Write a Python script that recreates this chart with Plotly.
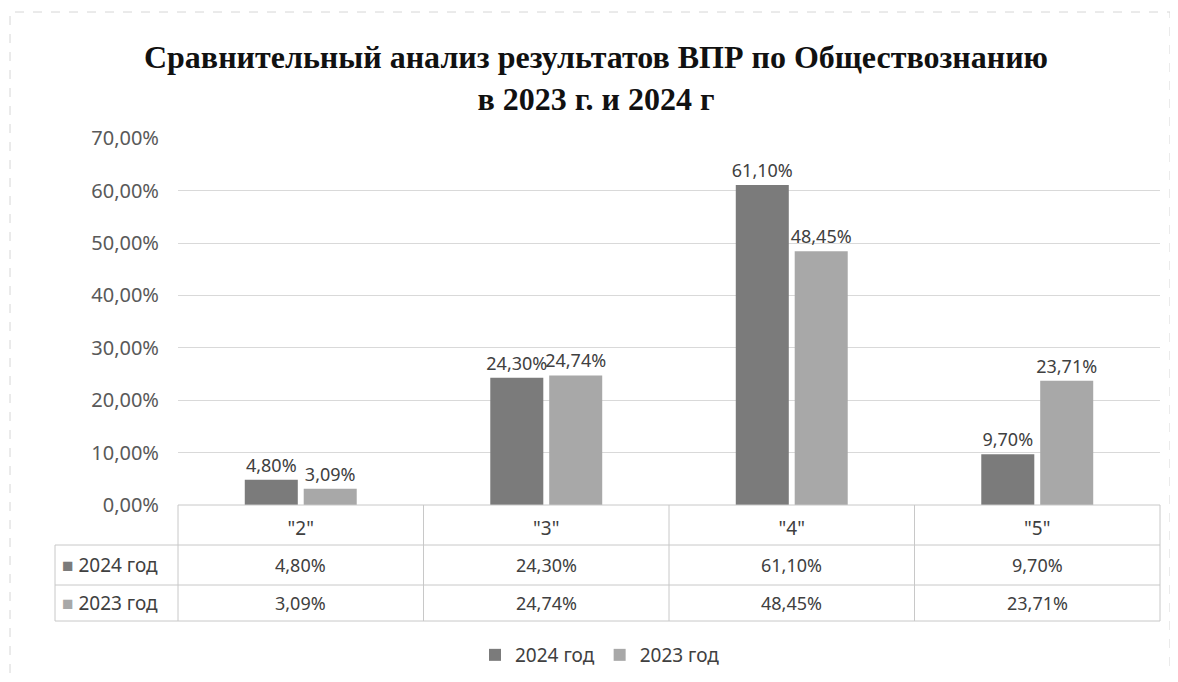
import plotly.graph_objects as go

categories = ['"2"', '"3"', '"4"', '"5"']
series_names = ["2024 год", "2023 год"]
values_2024 = [0.048, 0.243, 0.611, 0.097]
values_2023 = [0.0309, 0.2474, 0.4845, 0.2371]
colors = ["#7b7b7b", "#a8a8a8"]

title_text = "<b>Сравнительный анализ результатов ВПР по Обществознанию<br>в 2023 г. и 2024 г</b>"

# window geometry (page body has 8px margin)
OFF = 8
W, H = 1162, 666
PL, PR, PT, PB = 178, 1160, 138, 505  # plot area in window pixels
ML, MR, MT, MB = PL - OFF, W - (PR - OFF), PT - OFF, H - (PB - OFF)
PW, PH = PR - PL, PB - PT

def py(px):
    return (PB - px) / PH

def px_x(px):
    return (px - PL) / PW

font_fam = "Noto Sans, Open Sans, sans-serif"
txt_col = "#404040"

fig = go.Figure()
for name, vals, col in zip(series_names, [values_2024, values_2023], colors):
    fig.add_trace(go.Bar(
        x=categories, y=vals, name=name,
        marker=dict(color=col, line=dict(width=0)),
        texttemplate="%{y:.2%}", textposition="outside", constraintext="none",
        textfont=dict(size=18, color=txt_col, family=font_fam),
        cliponaxis=False,
    ))

shapes = []
ann = []
n = len(categories)
line_col = "#c8c8c8"
row_tops = [py(505), py(545), py(585), py(621)]
left_x = px_x(55)

shapes.append(dict(type="line", xref="x domain", yref="paper", x0=0, x1=1,
                   y0=row_tops[0], y1=row_tops[0], line=dict(color=line_col, width=1)))
for yv in row_tops[1:]:
    shapes.append(dict(type="line", xref="x domain", yref="paper", x0=left_x, x1=1,
                       y0=yv, y1=yv, line=dict(color=line_col, width=1)))
for i in range(n + 1):
    xv = i / n
    shapes.append(dict(type="line", xref="x domain", yref="paper", x0=xv, x1=xv,
                       y0=row_tops[0], y1=row_tops[3], line=dict(color=line_col, width=1)))
shapes.append(dict(type="line", xref="x domain", yref="paper", x0=left_x, x1=left_x,
                   y0=row_tops[1], y1=row_tops[3], line=dict(color=line_col, width=1)))
shapes.append(dict(type="rect", xref="paper", yref="paper",
                   x0=px_x(10), x1=px_x(1170), y0=py(676), y1=py(12),
                   line=dict(color="#d6d6d6", width=1, dash="dash")))

for r, (name, vals, col) in enumerate(zip(series_names, [values_2024, values_2023], colors)):
    yc = (row_tops[r + 1] + row_tops[r + 2]) / 2
    ann.append(dict(xref="x domain", yref="paper", x=px_x(60), y=yc, xanchor="left",
                    yanchor="middle", showarrow=False,
                    text=f"<span style='color:{col}'>■</span> {name}",
                    font=dict(size=19, color=txt_col, family=font_fam)))
    for i, v in enumerate(vals):
        ann.append(dict(xref="x domain", yref="paper", x=(i + 0.5) / n, y=yc,
                        xanchor="center", yanchor="middle", showarrow=False,
                        text=f"{v*100:.2f}%".replace(".", ","),
                        font=dict(size=18, color=txt_col, family=font_fam)))

fig.update_layout(
    width=W, height=H,
    margin=dict(l=ML, r=MR, t=MT, b=MB),
    paper_bgcolor="white", plot_bgcolor="white",
    separators=", ",
    title=dict(text=title_text, x=(596 - OFF) / W, xref="container",
               y=1 - (68 - OFF) / H, yref="container", yanchor="middle", xanchor="center",
               font=dict(family="Liberation Serif, Times New Roman, serif", size=32,
                         color="#111111")),
    barmode="group", bargap=0.52, bargroupgap=0.1,
    showlegend=True,
    legend=dict(orientation="h", x=px_x(600), xanchor="center",
                yref="container", y=(H - (655 - OFF)) / H, yanchor="middle",
                font=dict(size=19, color=txt_col, family=font_fam),
                itemwidth=30, tracegroupgap=0),
    xaxis=dict(showgrid=False, showline=False, ticks="outside", ticklen=6,
               tickcolor="rgba(0,0,0,0)", tickfont=dict(size=19, color=txt_col, family=font_fam)),
    yaxis=dict(range=[0, 0.7005], dtick=0.1, tickformat=".2%", showgrid=True,
               gridcolor="#d9d9d9", gridwidth=1, zeroline=False, showline=False,
               ticks="outside", ticklen=14, tickcolor="rgba(0,0,0,0)",
               tickfont=dict(size=20, color="#595959", family=font_fam)),
    shapes=shapes, annotations=ann,
)

fig.write_html("out.html")
